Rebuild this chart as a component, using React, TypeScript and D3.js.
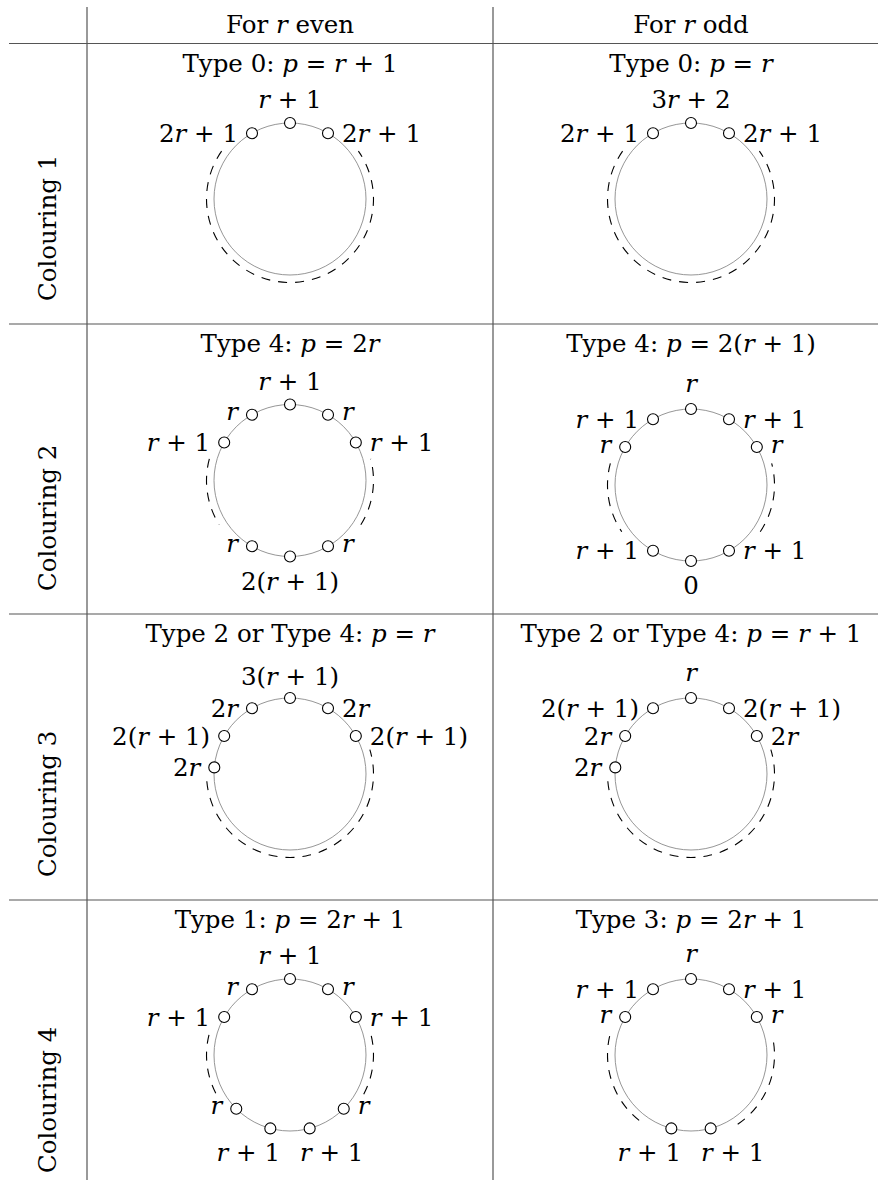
import React from "react";
import * as d3 from "d3";

// ---------- data ----------
const columnHeaders = ["For $r$ even", "For $r$ odd"];
const rowLabels = ["Colouring 1", "Colouring 2", "Colouring 3", "Colouring 4"];
const cellTitles = [
  ["Type 0: $p = r + 1$", "Type 0: $p = r$"],
  ["Type 4: $p = 2r$", "Type 4: $p = 2(r + 1)$"],
  ["Type 2 or Type 4: $p = r$", "Type 2 or Type 4: $p = r + 1$"],
  ["Type 1: $p = 2r + 1$", "Type 3: $p = 2r + 1$"],
];

// node: [angle in degrees, label, label side]
type NodeSpec = [number, string, string];
const nodesC1Even: NodeSpec[] = [[120, "2r + 1", "left"], [90, "r + 1", "above"], [60, "2r + 1", "right"]];
const nodesC1Odd: NodeSpec[] = [[120, "2r + 1", "left"], [90, "3r + 2", "above"], [60, "2r + 1", "right"]];
const nodesC2Even: NodeSpec[] = [
  [150, "r + 1", "left"], [120, "r", "left"], [90, "r + 1", "above"], [60, "r", "right"], [30, "r + 1", "right"],
  [240, "r", "left"], [270, "2(r + 1)", "below"], [300, "r", "right"],
];
const nodesC2Odd: NodeSpec[] = [
  [150, "r", "left"], [120, "r + 1", "left"], [90, "r", "above"], [60, "r + 1", "right"], [30, "r", "right"],
  [240, "r + 1", "left"], [270, "0", "below"], [300, "r + 1", "right"],
];
const nodesC3Even: NodeSpec[] = [
  [175, "2r", "left"], [150, "2(r + 1)", "left"], [120, "2r", "left"], [90, "3(r + 1)", "above"],
  [60, "2r", "right"], [30, "2(r + 1)", "right"],
];
const nodesC3Odd: NodeSpec[] = [
  [175, "2r", "left"], [150, "2r", "left"], [120, "2(r + 1)", "left"], [90, "r", "above"],
  [60, "2(r + 1)", "right"], [30, "2r", "right"],
];
const nodesC4Even: NodeSpec[] = [
  [150, "r + 1", "left"], [120, "r", "left"], [90, "r + 1", "above"], [60, "r", "right"], [30, "r + 1", "right"],
  [225, "r", "left"], [315, "r", "right"], [255, "r + 1", "belowleft"], [285, "r + 1", "belowright"],
];
const nodesC4Odd: NodeSpec[] = [
  [150, "r", "left"], [120, "r + 1", "left"], [90, "r", "above"], [60, "r + 1", "right"], [30, "r", "right"],
  [255, "r + 1", "belowleft"], [285, "r + 1", "belowright"],
];

// dashed arcs: [start angle, end angle] in degrees, counter-clockwise
const dashC1Even: [number, number][] = [[145, 395]];
const dashC1Odd: [number, number][] = [[145, 395]];
const dashC2Even: [number, number][] = [[165, 212], [-32, 15]];
const dashC2Odd: [number, number][] = [[165, 214], [-34, 15]];
const dashC3Even: [number, number][] = [[185, 377]];
const dashC3Odd: [number, number][] = [[185, 377]];
const dashC4Even: [number, number][] = [[166, 208], [-28, 14]];
const dashC4Odd: [number, number][] = [[167, 236], [-56, 13]];

const cellNodes = [
  [nodesC1Even, nodesC1Odd],
  [nodesC2Even, nodesC2Odd],
  [nodesC3Even, nodesC3Odd],
  [nodesC4Even, nodesC4Odd],
];
const cellDashes = [
  [dashC1Even, dashC1Odd],
  [dashC2Even, dashC2Odd],
  [dashC3Even, dashC3Odd],
  [dashC4Even, dashC4Odd],
];

// ---------- layout ----------
const W = 878;
const H = 1180;
const FONT = "DejaVu Serif";
const FS = 24.5;
const colLines = [87, 493];
const colCenters = [290, 691];
const headerTop = 7;
const headerBaseline = 33;
const ruleYs = [43.5, 324, 614, 900];
const rowBottoms = [324, 614, 900, 1196];
const circleCY = [
  [199, 199],
  [480.5, 485],
  [774, 774],
  [1055, 1055],
];
const R = 76;
const RD = 83.5;
const NODE_R = 5.5;

const rad = d3.scaleLinear().domain([0, 180]).range([0, Math.PI]);

function MathText(props: { text: string; math?: boolean; [k: string]: any }) {
  const { text, math, ...rest } = props;
  const segs: { t: string; it: boolean }[] = [];
  let inMath = !!math;
  let buf = "";
  let bufIt = false;
  const push = () => {
    if (buf.length) segs.push({ t: buf, it: bufIt });
    buf = "";
  };
  for (const ch of text) {
    if (ch === "$") {
      inMath = !inMath;
      continue;
    }
    const it = inMath && /[a-zA-Z]/.test(ch);
    if (it !== bufIt) {
      push();
      bufIt = it;
    }
    buf += ch;
  }
  push();
  return (
    <text
      fontFamily={FONT}
      fontSize={FS}
      fill="#000"
      style={{ whiteSpace: "pre", fontFamily: FONT }}
      {...rest}
    >
      {segs.map((s, i) => (
        <tspan key={i} fontStyle={s.it ? "italic" : "normal"}>
          {s.t}
        </tspan>
      ))}
    </text>
  );
}

function Cell({ cx, cy, nodes, dashes }: { cx: number; cy: number; nodes: NodeSpec[]; dashes: [number, number][] }) {
  const arcs = dashes.map(([a0, a1]) => {
    const p = d3.path();
    p.arc(cx, cy, RD, -rad(a0), -rad(a1), true);
    return p.toString();
  });
  return (
    <g>
      <circle cx={cx} cy={cy} r={R} fill="none" stroke="#8a8a8a" strokeWidth={0.9} />
      {arcs.map((d, i) => (
        <path key={i} d={d} fill="none" stroke="#000" strokeWidth={1.1} strokeDasharray="9 8" />
      ))}
      {nodes.map(([ang, label, side], i) => {
        const x = cx + R * Math.cos(rad(ang));
        const y = cy - R * Math.sin(rad(ang));
        const small = label === "r";
        let tx = x;
        let ty = y;
        let anchor = "middle";
        if (side === "left") {
          tx = x - 14;
          ty = y + (small ? 5.5 : 8.5);
          anchor = "end";
        } else if (side === "right") {
          tx = x + 14;
          ty = y + (small ? 5.5 : 8.5);
          anchor = "start";
        } else if (side === "above") {
          ty = y - (small ? 17 : label.includes("(") ? 13 : 15);
        } else if (side === "below") {
          ty = y + 33;
        } else if (side === "belowleft") {
          tx = x - 22;
          ty = y + 33;
        } else if (side === "belowright") {
          tx = x + 22;
          ty = y + 33;
        }
        return (
          <g key={i}>
            <circle cx={x} cy={y} r={NODE_R} fill="#fff" stroke="#000" strokeWidth={1.1} />
            <MathText text={label} math x={tx} y={ty} textAnchor={anchor} />
          </g>
        );
      })}
    </g>
  );
}

export default function App() {
  return (
    <svg
      width={W}
      height={H}
      viewBox={`0 0 ${W} ${H}`}
      style={{ position: "absolute", left: 0, top: 0, background: "#fff" }}
    >
      <rect x={0} y={0} width={W} height={H} fill="#fff" />
      {ruleYs.map((y, i) => (
        <line key={i} x1={9} x2={W} y1={y} y2={y} stroke="#555" strokeWidth={1.2} />
      ))}
      {colLines.map((x, i) => (
        <line key={i} x1={x} x2={x} y1={headerTop} y2={H} stroke="#555" strokeWidth={1.2} />
      ))}
      {columnHeaders.map((h, i) => (
        <MathText key={i} text={h} x={colCenters[i]} y={headerBaseline} textAnchor="middle" />
      ))}
      {rowLabels.map((l, i) => (
        <MathText
          key={i}
          text={l}
          transform={`translate(55.5, ${rowBottoms[i] - 23}) rotate(-90)`}
          textAnchor="start"
        />
      ))}
      {cellTitles.map((row, ri) =>
        row.map((t, ci) => (
          <g key={`${ri}-${ci}`}>
            <MathText text={t} x={colCenters[ci]} y={ruleYs[ri] + 28} textAnchor="middle" />
            <Cell
              cx={colCenters[ci]}
              cy={circleCY[ri][ci]}
              nodes={cellNodes[ri][ci]}
              dashes={cellDashes[ri][ci]}
            />
          </g>
        ))
      )}
    </svg>
  );
}
